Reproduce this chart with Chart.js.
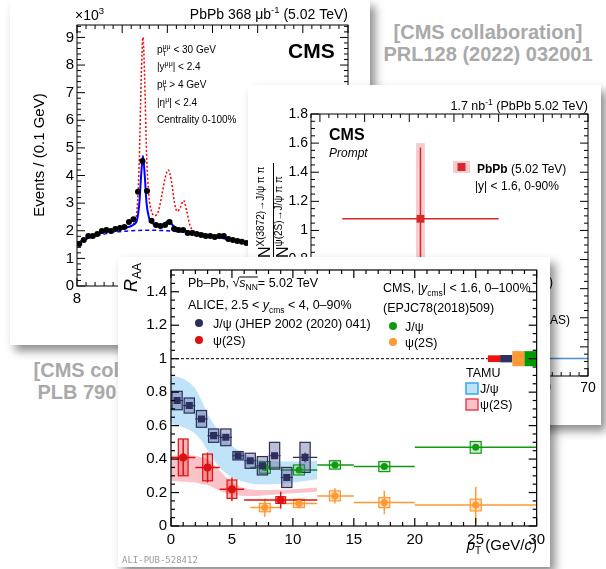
<!DOCTYPE html>
<html>
<head>
<meta charset="utf-8">
<script src="https://cdn.jsdelivr.net/npm/chart.js@4.4.0/dist/chart.umd.min.js"></script>
<style>
  html, body { margin: 0; padding: 0; background: #fff; }
  body { width: 606px; height: 569px; position: relative; overflow: hidden; font-family: "Liberation Sans", Arial, sans-serif; }
  .card { position: absolute; background: #fff; box-shadow: 5px 6px 9px rgba(0,0,0,0.45); }
  .card canvas { display: block; }
  .ref { position: absolute; width: 260px; color: #a9a9a9; font-weight: bold; font-size: 20px; line-height: 22px; text-align: center; white-space: nowrap; }
</style>
</head>
<body>
<div class="ref" style="left:358px; top:21px;">[CMS collaboration]<br>PRL128 (2022) 032001</div>
<div class="ref" style="left:-2px; top:359px;">[CMS collaboration]<br>PLB 790 (2019) 270</div>

<div class="card" style="left:10px; top:0px; width:360px; height:345px; z-index:1;"><canvas id="massChart" width="360" height="345"></canvas></div>
<div class="card" style="left:248px; top:85px; width:353px; height:340px; z-index:2;"><canvas id="ratioChart" width="353" height="340"></canvas></div>
<div class="card" style="left:118px; top:257px; width:432px; height:310px; z-index:3;"><canvas id="raaChart" width="432" height="310"></canvas></div>

<script>
const FONT = '"Liberation Sans", Arial, Helvetica, sans-serif';

// ---- Panel 1: CMS dimuon mass, Upsilon region (x10^3 events) ----
const massBins = [8.05, 8.15, 8.25, 8.35, 8.45, 8.55, 8.65, 8.75, 8.85, 8.95,
  9.05, 9.15, 9.25, 9.35, 9.45, 9.55, 9.65, 9.75, 9.85, 9.95,
  10.05, 10.15, 10.25, 10.35, 10.45, 10.55, 10.65, 10.75, 10.85, 10.95,
  11.05, 11.15, 11.25, 11.35, 11.45, 11.55, 11.65, 11.75];
const massEvents = [1.52, 1.67, 1.81, 1.81, 1.88, 1.99, 2.03, 1.99, 2.06, 2.10,
  2.14, 2.32, 2.42, 3.41, 4.53, 3.44, 2.36, 2.21, 2.17, 2.21,
  2.32, 2.07, 2.03, 2.03, 1.92, 1.92, 1.88, 1.85, 1.81, 1.81,
  1.77, 1.81, 1.81, 1.70, 1.67, 1.63, 1.60, 1.56];
const fitMass = [8.0, 8.3, 8.6, 8.9, 9.1, 9.25, 9.33, 9.38, 9.42, 9.46, 9.50, 9.54, 9.59, 9.65, 9.72,
  9.8, 9.9, 9.97, 10.02, 10.07, 10.13, 10.2, 10.3, 10.4, 10.6, 10.9, 11.2, 11.5, 11.8];
const fitTotal = [1.55, 1.78, 1.95, 2.05, 2.12, 2.22, 2.4, 3.0, 4.0, 4.72, 4.0, 3.0, 2.5, 2.3, 2.22,
  2.18, 2.2, 2.3, 2.36, 2.3, 2.18, 2.1, 2.05, 2.0, 1.93, 1.84, 1.75, 1.66, 1.57];
const bkgMass = [8.0, 8.4, 8.8, 9.2, 9.6, 10.0, 10.4, 10.8, 11.2, 11.5, 11.8];
const bkgValues = [1.55, 1.8, 1.94, 2.0, 2.02, 2.0, 1.94, 1.84, 1.73, 1.66, 1.57];
const ppMass = [8.0, 8.3, 8.6, 8.9, 9.1, 9.25, 9.33, 9.38, 9.42, 9.46, 9.50, 9.54, 9.59, 9.65, 9.72,
  9.8, 9.88, 9.95, 10.02, 10.09, 10.16, 10.22, 10.29, 10.36, 10.43, 10.5, 10.6, 10.9, 11.2, 11.5, 11.8];
const ppScaled = [1.55, 1.78, 1.95, 2.05, 2.12, 2.25, 2.8, 4.6, 7.4, 9.0, 7.4, 4.8, 3.3, 2.7, 2.55,
  2.7, 3.3, 3.9, 4.2, 3.8, 3.0, 2.7, 2.85, 3.1, 2.7, 2.2, 1.98, 1.84, 1.75, 1.66, 1.57];

// ---- Panel 2: CMS X(3872)/psi(2S) ratio ----
const ratioPt = [32.5];
const ratioPtLo = [15];
const ratioPtHi = [50];
const ratioValue = [1.08];
const ratioStat = [0.49];
const ratioSyst = [0.52];
const refLinePt = [50, 70];
const refLineValue = [0.12, 0.12];

// ---- Panel 3: R_AA vs pT ----
const aliceJpsiPt = [0.5, 1.5, 2.5, 3.5, 4.5, 5.5, 6.5, 7.5, 8.5, 9.5, 11];
const aliceJpsiPtErr = [0.5, 0.5, 0.5, 0.5, 0.5, 0.5, 0.5, 0.5, 0.5, 0.5, 1];
const aliceJpsiRaa = [0.75, 0.72, 0.64, 0.54, 0.53, 0.42, 0.39, 0.36, 0.42, 0.29, 0.41];
const aliceJpsiStat = [0.015, 0.015, 0.015, 0.015, 0.015, 0.015, 0.015, 0.02, 0.02, 0.02, 0.03];
const aliceJpsiSyst = [0.055, 0.045, 0.05, 0.04, 0.05, 0.025, 0.045, 0.055, 0.08, 0.06, 0.09];

const alicePsi2sPt = [1, 3, 5, 9];
const alicePsi2sPtErr = [1, 1, 1, 3];
const alicePsi2sRaa = [0.41, 0.35, 0.22, 0.155];
const alicePsi2sStat = [0.11, 0.09, 0.07, 0.05];
const alicePsi2sSyst = [0.11, 0.08, 0.055, 0.02];

const cmsPt = [7.7, 10.5, 13.45, 17.5, 25];
const cmsPtLo = [6.5, 9, 12, 15, 20];
const cmsPtHi = [9, 12, 15, 20, 30];
const cmsJpsiRaa = [0.35, 0.335, 0.365, 0.355, 0.47];
const cmsJpsiStat = [0.01, 0.01, 0.01, 0.01, 0.015];
const cmsJpsiSyst = [0.035, 0.03, 0.025, 0.03, 0.035];
const cmsPsi2sRaa = [0.11, 0.135, 0.18, 0.14, 0.125];
const cmsPsi2sStat = [0.055, 0.03, 0.045, 0.07, 0.11];
const cmsPsi2sSyst = [0.025, 0.025, 0.03, 0.03, 0.035];

const tamuPt = [0, 1, 2, 2.5, 3, 4, 5, 6, 7, 8, 10, 12];
const tamuJpsiHi = [0.90, 0.88, 0.82, 0.75, 0.67, 0.56, 0.48, 0.43, 0.40, 0.39, 0.385, 0.39];
const tamuJpsiLo = [0.61, 0.59, 0.55, 0.51, 0.45, 0.35, 0.29, 0.265, 0.25, 0.25, 0.26, 0.28];
const tamuPsi2sHi = [0.42, 0.425, 0.42, 0.41, 0.40, 0.33, 0.26, 0.225, 0.215, 0.215, 0.22, 0.23];
const tamuPsi2sLo = [0.27, 0.265, 0.26, 0.25, 0.245, 0.21, 0.185, 0.18, 0.18, 0.185, 0.195, 0.205];

const unityPt = [0, 26];
const unityValue = [1, 1];
const globalPtLo = [26, 27, 28, 29];
const globalPtHi = [27, 28, 29, 30];
const globalUnc = [0.02, 0.022, 0.045, 0.045];
const globalColors = ['#ee1111', '#303060', '#ff9933', '#009900'];

// ---- helpers ----
const pts = (xs, ys) => xs.map((x, i) => ({ x, y: ys[i] }));
const T = (t, s, o = {}) => Object.assign({ t, s }, o);
const plainNum = (v) => String(+v.toFixed(3));

function drawRich(ctx, x, y, segs, align) {
  const fnt = (s) => `${s.st || ''} ${s.s}px ${FONT}`;
  let total = 0;
  segs.forEach((s) => {
    ctx.font = fnt(s);
    s._w = ctx.measureText(s.t).width;
    if (!s.na) total += s._w;
  });
  let cx = align === 'right' ? x - total : align === 'center' ? x - total / 2 : x;
  ctx.textAlign = 'left';
  ctx.textBaseline = 'alphabetic';
  segs.forEach((s) => {
    ctx.font = fnt(s);
    ctx.fillStyle = s.c || '#000';
    ctx.fillText(s.t, cx, y + (s.dy || 0));
    if (s.ov) {
      ctx.strokeStyle = '#000';
      ctx.lineWidth = 1;
      ctx.beginPath();
      ctx.moveTo(cx, y + s.ov);
      ctx.lineTo(cx + s._w, y + s.ov);
      ctx.stroke();
    }
    if (!s.na) cx += s._w;
  });
}

function drawRotated(ctx, x, y, segs, align) {
  ctx.save();
  ctx.translate(x, y);
  ctx.rotate(-Math.PI / 2);
  drawRich(ctx, 0, 0, segs, align);
  ctx.restore();
}

function dot(ctx, x, y, r, color) {
  ctx.fillStyle = color;
  ctx.beginPath();
  ctx.arc(x, y, r, 0, Math.PI * 2);
  ctx.fill();
}

// ROOT-style frame with inward ticks on all four sides
function frameTicks(t) {
  return {
    id: 'frameTicks',
    afterDatasetsDraw(chart) {
      const { ctx, chartArea: a, scales: { x, y } } = chart;
      ctx.save();
      ctx.strokeStyle = '#000';
      ctx.lineWidth = t.lw || 1;
      ctx.strokeRect(a.left, a.top, a.right - a.left, a.bottom - a.top);
      const seg = (x0, y0, x1, y1) => { ctx.beginPath(); ctx.moveTo(x0, y0); ctx.lineTo(x1, y1); ctx.stroke(); };
      const loop = (sc, minor, major, fn) => {
        for (let i = Math.ceil(sc.min / minor - 1e-6); i * minor <= sc.max + 1e-6; i++) {
          const r = (i * minor) / major;
          fn(sc.getPixelForValue(i * minor), Math.abs(r - Math.round(r)) < 1e-6);
        }
      };
      loop(x, t.xMinor, t.xMajor, (p, M) => {
        const L = M ? t.maj : t.min;
        seg(p, a.bottom, p, a.bottom - L);
        seg(p, a.top, p, a.top + L);
      });
      loop(y, t.yMinor, t.yMajor, (p, M) => {
        const L = M ? t.maj : t.min;
        seg(a.left, p, a.left + L, p);
        seg(a.right, p, a.right - L, p);
      });
      ctx.restore();
    },
  };
}

// boxes (systematics) + bars (statistics) for one series
function drawErrors(chart, s) {
  const { ctx, chartArea: a, scales: { x, y } } = chart;
  ctx.save();
  ctx.beginPath();
  ctx.rect(a.left, a.top, a.right - a.left, a.bottom - a.top);
  ctx.clip();
  s.x.forEach((xv, i) => {
    const yv = s.y[i];
    const px = x.getPixelForValue(xv);
    const py = y.getPixelForValue(yv);
    if (s.syst) {
      const bx0 = x.getPixelForValue(xv - s.boxHalf);
      const bx1 = x.getPixelForValue(xv + s.boxHalf);
      const by0 = y.getPixelForValue(yv + s.syst[i]);
      const by1 = y.getPixelForValue(yv - s.syst[i]);
      ctx.fillStyle = s.boxFill;
      ctx.fillRect(bx0, by0, bx1 - bx0, by1 - by0);
      if (s.boxLine) {
        ctx.strokeStyle = s.boxStroke || s.color;
        ctx.lineWidth = s.boxLine;
        ctx.strokeRect(bx0, by0, bx1 - bx0, by1 - by0);
      }
    }
    ctx.strokeStyle = s.color;
    ctx.lineWidth = s.lw || 1.5;
    ctx.beginPath();
    ctx.moveTo(x.getPixelForValue(s.xlo[i]), py);
    ctx.lineTo(x.getPixelForValue(s.xhi[i]), py);
    ctx.moveTo(px, y.getPixelForValue(yv + s.stat[i]));
    ctx.lineTo(px, y.getPixelForValue(yv - s.stat[i]));
    ctx.stroke();
  });
  ctx.restore();
}

function axisOpts(min, max, step, size, pad, fit) {
  return {
    type: 'linear', min, max,
    grid: { display: false, drawTicks: false },
    border: { display: false },
    ticks: { stepSize: step, includeBounds: false, autoSkip: false, maxRotation: 0, color: '#000', padding: pad,
      font: { family: FONT, size }, callback: plainNum },
    afterFit: fit,
  };
}

function baseOptions(padding, x, y) {
  return {
    responsive: false,
    animation: false,
    events: [],
    layout: { padding },
    plugins: { legend: { display: false }, tooltip: { enabled: false }, filler: { drawTime: 'beforeDatasetsDraw' } },
    scales: { x, y },
  };
}

// ---- Chart 1: dimuon mass ----
new Chart(document.getElementById('massChart'), {
  type: 'line',
  data: {
    datasets: [
      { data: pts(massBins, massEvents), showLine: false, pointRadius: 3, pointBackgroundColor: '#000', pointBorderColor: '#000', pointBorderWidth: 0 },
      { data: pts(fitMass, fitTotal), borderColor: '#0000ff', borderWidth: 2, pointRadius: 0, cubicInterpolationMode: 'monotone' },
      { data: pts(bkgMass, bkgValues), borderColor: '#0000ff', borderWidth: 1.5, borderDash: [4, 3], pointRadius: 0, cubicInterpolationMode: 'monotone' },
      { data: pts(ppMass, ppScaled), borderColor: '#ff0000', borderWidth: 1.5, borderDash: [2, 2], pointRadius: 0, cubicInterpolationMode: 'monotone' },
    ],
  },
  options: baseOptions({ top: 25, right: 22, left: 0, bottom: 0 },
    axisOpts(8, 14, 1, 15, 4, (s) => { s.height = 59; }),
    axisOpts(0, 9.45, 1, 15, 3, (s) => { s.width = 67; })),
  plugins: [
    frameTicks({ xMajor: 1, xMinor: 0.2, yMajor: 1, yMinor: 0.2, maj: 8, min: 4 }),
    {
      id: 'massText',
      afterDraw(chart) {
        const ctx = chart.ctx;
        drawRich(ctx, 65, 20, [T('×10', 14), T('3', 9.5, { dy: -6 })], 'left');
        drawRich(ctx, 338, 19, [T('PbPb 368 μb', 14), T('-1', 9.5, { dy: -6 }), T(' (5.02 TeV)', 14)], 'right');
        drawRich(ctx, 278, 58, [T('CMS', 21, { st: 'bold' })], 'left');
        drawRich(ctx, 147, 53, [T('p', 10), T('T', 7, { dy: 3, na: true }), T('μμ', 7, { dy: -4 }), T(' < 30 GeV', 10)], 'left');
        drawRich(ctx, 147, 70, [T('|y', 10), T('μμ', 7, { dy: -4 }), T('| < 2.4', 10)], 'left');
        drawRich(ctx, 147, 88, [T('p', 10), T('T', 7, { dy: 3, na: true }), T('μ', 7, { dy: -4 }), T(' > 4 GeV', 10)], 'left');
        drawRich(ctx, 147, 106, [T('|η', 10), T('μ', 7, { dy: -4 }), T('| < 2.4', 10)], 'left');
        drawRich(ctx, 147, 123, [T('Centrality 0-100%', 10)], 'left');
        drawRotated(ctx, 33.5, 155, [T('Events / (0.1 GeV)', 15)], 'center');
      },
    },
  ],
});

// ---- Chart 2: X(3872) / psi(2S) ratio ----
new Chart(document.getElementById('ratioChart'), {
  type: 'line',
  data: {
    datasets: [
      { data: pts(ratioPt, ratioValue), showLine: false, pointStyle: 'rect', pointRadius: 5.5, pointBackgroundColor: '#d42a2a', pointBorderWidth: 0 },
      { data: pts(refLinePt, refLineValue), borderColor: '#4a8fd8', borderWidth: 1.5, pointRadius: 0 },
    ],
  },
  options: baseOptions({ top: 29, right: 13, left: 0, bottom: 0 },
    axisOpts(8, 70, 10, 14, 4, (s) => { s.height = 49; }),
    axisOpts(0, 1.8, 0.2, 14, 3, (s) => { s.width = 63; })),
  plugins: [
    {
      id: 'ratioErrors',
      beforeDatasetsDraw(chart) {
        drawErrors(chart, {
          x: ratioPt, y: ratioValue, xlo: ratioPtLo, xhi: ratioPtHi, stat: ratioStat, syst: ratioSyst,
          boxHalf: 1, boxFill: 'rgba(230,110,120,0.35)', boxLine: 0, color: '#d42a2a', lw: 1.5,
        });
      },
    },
    frameTicks({ xMajor: 10, xMinor: 2, yMajor: 0.2, yMinor: 0.05, maj: 8, min: 4 }),
    {
      id: 'ratioText',
      afterDraw(chart) {
        const ctx = chart.ctx;
        drawRich(ctx, 340, 25, [T('1.7 nb', 12.5), T('-1', 8.5, { dy: -5 }), T(' (PbPb 5.02 TeV)', 12.5)], 'right');
        drawRich(ctx, 81, 55, [T('CMS', 16, { st: 'bold' })], 'left');
        drawRich(ctx, 81, 72, [T('Prompt', 12, { st: 'italic' })], 'left');
        ctx.fillStyle = 'rgba(230,110,120,0.35)';
        ctx.fillRect(205, 76, 17, 12);
        ctx.fillStyle = '#d42a2a';
        ctx.fillRect(209.5, 78, 8, 8);
        drawRich(ctx, 229, 88, [T('PbPb', 12, { st: 'bold' }), T(' (5.02 TeV)', 12)], 'left');
        drawRich(ctx, 227, 105, [T('|y| < 1.6, 0-90%', 12)], 'left');
        drawRich(ctx, 305, 201, [T('pp (5.02 TeV)', 12)], 'right');
        drawRich(ctx, 322, 239, [T('PbPb (ATLAS)', 12)], 'right');
        // y title: fraction of yields
        drawRotated(ctx, 22, 173, [T('N', 16), T('X(3872)→J/ψ π π', 10, { dy: -6 })], 'left');
        drawRotated(ctx, 40, 173, [T('N', 16), T('ψ(2S)→J/ψ π π', 10, { dy: -6 })], 'left');
        ctx.strokeStyle = '#000';
        ctx.lineWidth = 1;
        ctx.beginPath();
        ctx.moveTo(25.5, 78);
        ctx.lineTo(25.5, 190);
        ctx.stroke();
      },
    },
  ],
});

// ---- Chart 3: R_AA vs pT ----
const NAVY = '#2c2e5e';
const RED = '#dd1111';
const GREEN = '#119911';
const ORANGE = '#ff9933';

new Chart(document.getElementById('raaChart'), {
  type: 'line',
  data: {
    datasets: [
      { data: pts(aliceJpsiPt, aliceJpsiRaa), showLine: false, pointStyle: 'rect', pointRadius: 5, pointBackgroundColor: NAVY, pointBorderWidth: 0 },
      { data: pts(alicePsi2sPt, alicePsi2sRaa), showLine: false, pointRadius: 4, pointBackgroundColor: RED, pointBorderWidth: 0 },
      { data: pts(cmsPt, cmsJpsiRaa), showLine: false, pointRadius: 3.5, pointBackgroundColor: GREEN, pointBorderWidth: 0 },
      { data: pts(cmsPt, cmsPsi2sRaa), showLine: false, pointRadius: 3.5, pointBackgroundColor: ORANGE, pointBorderWidth: 0 },
      { data: pts(unityPt, unityValue), borderColor: '#000', borderWidth: 1, borderDash: [3, 2], pointRadius: 0 },
      { data: pts(tamuPt, tamuPsi2sHi), borderWidth: 0, pointRadius: 0, cubicInterpolationMode: 'monotone', fill: '+1', backgroundColor: 'rgba(245,120,135,0.45)' },
      { data: pts(tamuPt, tamuPsi2sLo), borderWidth: 0, pointRadius: 0, cubicInterpolationMode: 'monotone' },
      { data: pts(tamuPt, tamuJpsiHi), borderWidth: 0, pointRadius: 0, cubicInterpolationMode: 'monotone', fill: '+1', backgroundColor: 'rgba(130,200,245,0.5)' },
      { data: pts(tamuPt, tamuJpsiLo), borderWidth: 0, pointRadius: 0, cubicInterpolationMode: 'monotone' },
    ],
  },
  options: baseOptions({ top: 9, right: 13, left: 0, bottom: 0 },
    axisOpts(0, 30, 5, 15, 5, (s) => { s.height = 41; }),
    axisOpts(0, 1.53, 0.2, 15, 4, (s) => { s.width = 53; })),
  plugins: [
    {
      id: 'raaErrors',
      beforeDatasetsDraw(chart) {
        const { ctx, scales: { x, y } } = chart;
        globalPtLo.forEach((lo, i) => {
          const x0 = x.getPixelForValue(lo), x1 = x.getPixelForValue(globalPtHi[i]);
          const y0 = y.getPixelForValue(1 + globalUnc[i]), y1 = y.getPixelForValue(1 - globalUnc[i]);
          ctx.fillStyle = globalColors[i];
          ctx.fillRect(x0, y0, x1 - x0, y1 - y0);
        });
        const jLo = aliceJpsiPt.map((v, i) => v - aliceJpsiPtErr[i]);
        const jHi = aliceJpsiPt.map((v, i) => v + aliceJpsiPtErr[i]);
        const pLo = alicePsi2sPt.map((v, i) => v - alicePsi2sPtErr[i]);
        const pHi = alicePsi2sPt.map((v, i) => v + alicePsi2sPtErr[i]);
        drawErrors(chart, { x: cmsPt, y: cmsPsi2sRaa, xlo: cmsPtLo, xhi: cmsPtHi, stat: cmsPsi2sStat, syst: cmsPsi2sSyst,
          boxHalf: 0.45, boxFill: 'rgba(255,170,100,0.35)', boxLine: 1.2, color: ORANGE, lw: 1.5 });
        drawErrors(chart, { x: cmsPt, y: cmsJpsiRaa, xlo: cmsPtLo, xhi: cmsPtHi, stat: cmsJpsiStat, syst: cmsJpsiSyst,
          boxHalf: 0.45, boxFill: 'rgba(120,200,120,0.35)', boxLine: 1.2, color: GREEN, lw: 1.5 });
        drawErrors(chart, { x: aliceJpsiPt, y: aliceJpsiRaa, xlo: jLo, xhi: jHi, stat: aliceJpsiStat, syst: aliceJpsiSyst,
          boxHalf: 0.42, boxFill: 'rgba(90,95,150,0.4)', boxLine: 1.2, color: NAVY, lw: 1.2 });
        drawErrors(chart, { x: alicePsi2sPt, y: alicePsi2sRaa, xlo: pLo, xhi: pHi, stat: alicePsi2sStat, syst: alicePsi2sSyst,
          boxHalf: 0.4, boxFill: 'rgba(220,60,60,0.35)', boxLine: 1.2, color: RED, lw: 1.5 });
      },
    },
    frameTicks({ xMajor: 5, xMinor: 1, yMajor: 0.2, yMinor: 0.05, maj: 8, min: 4, lw: 1.2 }),
    {
      id: 'raaText',
      afterDraw(chart) {
        const ctx = chart.ctx;
        drawRich(ctx, 70, 30, [T('Pb–Pb, ', 12.5), T('√', 12.5), T('s', 12.5, { st: 'italic', ov: -10 }),
          T('NN', 8.5, { dy: 3, ov: -10 }), T('= 5.02 TeV', 12.5)], 'left');
        drawRich(ctx, 70, 52, [T('ALICE, 2.5 < ', 12.5), T('y', 12.5, { st: 'italic' }), T('cms', 8.5, { dy: 4 }), T(' < 4, 0–90%', 12.5)], 'left');
        dot(ctx, 81, 66, 4, NAVY);
        drawRich(ctx, 95, 71, [T('J/ψ (JHEP 2002 (2020) 041)', 12.5)], 'left');
        dot(ctx, 81, 83, 4, RED);
        drawRich(ctx, 95, 88, [T('ψ(2S)', 12.5)], 'left');

        drawRich(ctx, 265, 35, [T('CMS, |', 12.5), T('y', 12.5, { st: 'italic' }), T('cms', 8.5, { dy: 4 }), T('| < 1.6, 0–100%', 12.5)], 'left');
        drawRich(ctx, 265, 55, [T('(EPJC78(2018)509)', 12.5)], 'left');
        dot(ctx, 275, 69, 4, GREEN);
        drawRich(ctx, 287, 74, [T('J/ψ', 12.5)], 'left');
        dot(ctx, 275, 85, 4, ORANGE);
        drawRich(ctx, 287, 90, [T('ψ(2S)', 12.5)], 'left');

        drawRich(ctx, 348, 120, [T('TAMU', 12.5)], 'left');
        ctx.lineWidth = 1.5;
        ctx.fillStyle = 'rgba(130,200,245,0.5)';
        ctx.strokeStyle = '#3aa8ee';
        ctx.fillRect(348, 126, 12, 11);
        ctx.strokeRect(348, 126, 12, 11);
        drawRich(ctx, 362, 136, [T('J/ψ', 12.5)], 'left');
        ctx.fillStyle = 'rgba(245,120,135,0.45)';
        ctx.strokeStyle = '#ee4455';
        ctx.fillRect(348, 142, 12, 11);
        ctx.strokeRect(348, 142, 12, 11);
        drawRich(ctx, 362, 152, [T('ψ(2S)', 12.5)], 'left');

        drawRotated(ctx, 19, 35, [T('R', 18, { st: 'italic' }), T('AA', 12, { dy: 4 })], 'left');
        drawRich(ctx, 419, 293, [T('p', 15, { st: 'italic' }), T('T', 10, { dy: 4 }), T(' (GeV/', 15), T('c', 15, { st: 'italic' }), T(')', 15)], 'right');
        ctx.font = '9px "DejaVu Sans Mono", monospace';
        ctx.fillStyle = '#9a9a9a';
        ctx.textAlign = 'left';
        ctx.fillText('ALI-PUB-528412', 4, 306);
      },
    },
  ],
});
</script>
</body>
</html>
